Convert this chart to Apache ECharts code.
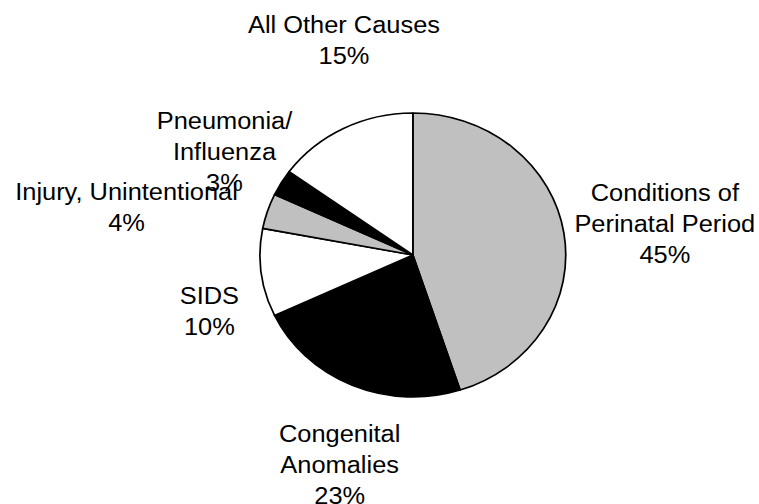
<!DOCTYPE html>
<html>
<head>
<meta charset="utf-8">
<script src="https://cdn.jsdelivr.net/npm/echarts@6/dist/echarts.min.js"></script>
<style>
  html, body { margin: 0; padding: 0; background: #fff; overflow: hidden; }
  /* the original picture is stretched a little sideways */
  #main { width: 705px; height: 504px; transform: scaleX(1.0766); transform-origin: 0 0; }
</style>
</head>
<body>
<div id="main"></div>
<script>
// data
var causes = ['Conditions of\nPerinatal Period', 'Congenital\nAnomalies', 'SIDS',
              'Injury, Unintentional', 'Pneumonia/\nInfluenza', 'All Other Causes'];
var shares = [45, 23, 10, 4, 3, 15];
var fills = ['#c0c0c0', '#000000', '#ffffff', '#c0c0c0', '#000000', '#ffffff'];

// where each label block sits, relative to the pie centre
var labelOffsets = [[234, -31], [-68, 210], [-189, 56], [-266, -48], [-175, -103], [-64, -215]];
var cx = 383.5, cy = 255;

var myChart = echarts.init(document.getElementById('main'), null, {renderer: 'svg'});

var option = {
    animation: false,
    backgroundColor: '#fff',
    series: [{
        type: 'pie',
        center: [cx, cy],
        radius: 142,
        startAngle: 90,
        clockwise: true,
        avoidLabelOverlap: false,
        silent: true,
        itemStyle: { borderColor: '#000', borderWidth: 1.6 },
        label: {
            show: true,
            position: 'inside',
            formatter: '{b}\n{c}%',
            color: '#000',
            fontFamily: 'Arial, "Liberation Sans", sans-serif',
            fontSize: 23.6,
            lineHeight: 31,
            align: 'center',
            textBorderWidth: 0
        },
        labelLine: { show: false },
        labelLayout: function (p) {
            var o = labelOffsets[p.dataIndex];
            return { x: cx + o[0], y: cy + o[1], align: 'center', verticalAlign: 'middle' };
        },
        emphasis: { disabled: true },
        data: causes.map(function (c, i) {
            return { name: c, value: shares[i], itemStyle: { color: fills[i] } };
        })
    }]
};

myChart.setOption(option);
</script>
</body>
</html>
